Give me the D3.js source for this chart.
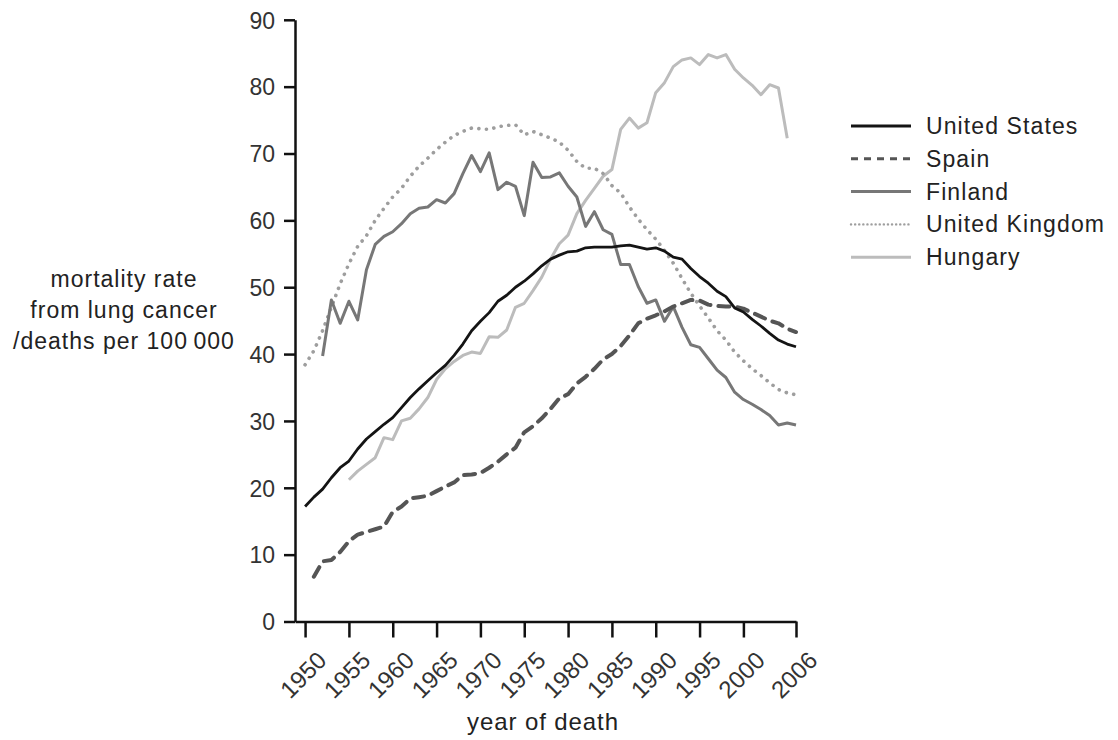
<!DOCTYPE html>
<html>
<head>
<meta charset="utf-8">
<script src="https://cdn.jsdelivr.net/npm/d3@7"></script>
<style>
    html, body { margin: 0; padding: 0; background: #fff; }
    text { font-family: "Liberation Sans", Arial, sans-serif; fill: #222; }
</style>
</head>
<body>
<div id="chart"></div>
<script>
const years = [
    1950, 1951, 1952, 1953, 1954, 1955, 1956, 1957, 1958, 1959,
    1960, 1961, 1962, 1963, 1964, 1965, 1966, 1967, 1968, 1969,
    1970, 1971, 1972, 1973, 1974, 1975, 1976, 1977, 1978, 1979,
    1980, 1981, 1982, 1983, 1984, 1985, 1986, 1987, 1988, 1989,
    1990, 1991, 1992, 1993, 1994, 1995, 1996, 1997, 1998, 1999,
    2000, 2001, 2002, 2003, 2004, 2005, 2006
];

const unitedStates = [
    17.2, 18.6, 19.8, 21.5, 23.0, 24.0, 25.8, 27.3, 28.4, 29.5,
    30.5, 32.0, 33.5, 34.8, 36.0, 37.2, 38.3, 39.8, 41.5, 43.5,
    44.9, 46.2, 47.9, 48.8, 50.0, 50.9, 52.0, 53.2, 54.2, 54.8,
    55.3, 55.4, 55.9, 56.0, 56.0, 56.0, 56.2, 56.3, 56.0, 55.7,
    55.9, 55.4, 54.5, 54.2, 52.8, 51.6, 50.6, 49.4, 48.6, 46.9,
    46.3, 45.2, 44.2, 43.1, 42.1, 41.5, 41.1
];

const spain = [
    null, 6.7, 9.0, 9.2, 10.4, 12.0, 13.0, 13.4, 13.8, 14.2,
    16.4, 17.2, 18.4, 18.6, 18.8, 19.5, 20.2, 20.8, 21.9, 22.0,
    22.2, 23.0, 23.9, 25.0, 26.0, 28.3, 29.2, 30.4, 31.8, 33.4,
    34.0, 35.6, 36.6, 37.8, 39.2, 40.0, 41.2, 42.8, 44.6, 45.3,
    45.8, 46.4, 47.1, 47.6, 48.1, 48.0, 47.4, 47.2, 47.1, 47.1,
    46.8, 46.2, 45.6, 45.0, 44.6, 43.8, 43.3
];

const finland = [
    null, null, 39.7, 48.1, 44.6, 47.9, 45.1, 52.6, 56.4, 57.6,
    58.3, 59.5, 61.0, 61.8, 62.0, 63.1, 62.6, 64.0, 67.0, 69.7,
    67.3, 70.1, 64.6, 65.7, 65.1, 60.7, 68.7, 66.4, 66.5, 67.1,
    65.1, 63.5, 59.1, 61.3, 58.6, 57.9, 53.4, 53.4, 50.1, 47.6,
    48.1, 44.9, 47.1, 44.0, 41.4, 41.0, 39.3, 37.6, 36.5, 34.3,
    33.2, 32.5, 31.7, 30.8, 29.4, 29.7, 29.4
];

const unitedKingdom = [
    38.4, 40.5, 43.5, 47.0, 50.5, 53.5, 56.1, 57.7, 60.0, 61.8,
    63.5, 64.8, 66.6, 68.1, 69.3, 70.6, 71.7, 72.7, 73.3, 73.8,
    73.7, 73.6, 74.0, 74.2, 74.3, 72.8, 73.3, 72.8, 72.3, 71.7,
    70.5, 68.8, 67.8, 67.8, 67.0, 65.2, 64.1, 62.0, 60.2, 58.6,
    57.2, 55.5, 53.6, 51.3, 49.1, 47.2, 45.4, 43.5, 42.1, 40.3,
    39.0, 37.8, 36.8, 35.7, 34.7, 34.2, 33.9
];

const hungary = [
    null, null, null, null, null, 21.2, 22.5, 23.5, 24.5, 27.5,
    27.2, 30.0, 30.4, 31.8, 33.5, 36.2, 37.8, 38.9, 39.8, 40.3,
    40.1, 42.6, 42.5, 43.6, 47.0, 47.6, 49.5, 51.5, 54.2, 56.5,
    57.8, 61.0, 63.0, 64.8, 66.6, 67.6, 73.6, 75.3, 73.8, 74.6,
    79.1, 80.6, 83.0, 84.0, 84.3, 83.3, 84.8, 84.3, 84.8, 82.6,
    81.3, 80.2, 78.8, 80.3, 79.8, 72.3, null
];

const countries = ['United States', 'Spain', 'Finland', 'United Kingdom', 'Hungary'];
const countryValues = [unitedStates, spain, finland, unitedKingdom, hungary];

const xTickValues = [1950, 1955, 1960, 1965, 1970, 1975, 1980, 1985, 1990, 1995, 2000, 2006];
const yTickValues = [0, 10, 20, 30, 40, 50, 60, 70, 80, 90];

// line styles per country (chart / legend)
const styles = {
    'United States': {color: '#141414', width: 2.8, dash: null, legendDash: null, cap: 'butt'},
    'Spain': {color: '#555555', width: 4, dash: '11,8', legendDash: '7,6', cap: 'round'},
    'Finland': {color: '#777777', width: 3, dash: null, legendDash: null, cap: 'butt'},
    'United Kingdom': {color: '#9e9e9e', width: 3.6, dash: '0.1,7.5', legendDash: '0.1,4', cap: 'round'},
    'Hungary': {color: '#bcbcbc', width: 3, dash: null, legendDash: null, cap: 'butt'}
};

const dimensions = {width: 1118, height: 740};

const svg = d3.select('#chart')
    .append('svg')
    .attr('width', dimensions.width)
    .attr('height', dimensions.height);

// the axis line starts a little before 1950
const xScale = d3.scaleLinear().domain([1950 - 1.15, 2006]).range([295, 796]);
const yScale = d3.scaleLinear().domain([0, 90]).range([621.5, 19.8]);

const xAxis = d3.axisBottom(xScale)
    .tickValues(xTickValues)
    .tickFormat(d3.format('d'))
    .tickSizeInner(16)
    .tickSizeOuter(0);

const yAxis = d3.axisLeft(yScale)
    .tickValues(yTickValues)
    .tickSizeInner(11)
    .tickSizeOuter(0);

const xAxisG = svg.append('g')
    .attr('transform', `translate(0,${yScale(0)})`)
    .call(xAxis);
xAxisG.selectAll('text')
    .attr('text-anchor', 'end')
    .attr('dx', 0)
    .attr('dy', 0)
    .attr('transform', 'translate(9,27) rotate(-45)')
    .style('font-size', '24px')
    .style('fill', '#333');

const yAxisG = svg.append('g')
    .attr('transform', `translate(${xScale.range()[0]},0)`)
    .call(yAxis);
yAxisG.selectAll('text')
    .attr('x', -20)
    .attr('dy', '0.36em')
    .style('font-size', '23px')
    .style('fill', '#333');

[xAxisG, yAxisG].forEach(g => {
    g.select('.domain').attr('stroke', '#111').attr('stroke-width', 2.5);
    g.selectAll('.tick line').attr('stroke', '#111').attr('stroke-width', 2.5);
});

// axis titles
svg.append('text')
    .attr('x', 543)
    .attr('y', 730)
    .attr('text-anchor', 'middle')
    .style('font-size', '24px')
    .style('letter-spacing', '0.9px')
    .text('year of death');

const yTitle = ['mortality rate', 'from lung cancer', '/deaths per 100\u2009000'];
svg.append('g')
    .selectAll('text')
    .data(yTitle)
    .join('text')
    .attr('x', 124)
    .attr('y', (d, i) => 287 + i * 31)
    .attr('text-anchor', 'middle')
    .style('font-size', '23px')
    .style('letter-spacing', '1px')
    .text(d => d);

// series lines
const line = d3.line()
    .defined(d => d[1] !== null)
    .x(d => xScale(d[0]))
    .y(d => yScale(d[1]));

// draw light ones first so the darker lines stay on top
const drawOrder = ['Hungary', 'United Kingdom', 'Finland', 'Spain', 'United States'];
svg.append('g')
    .selectAll('path')
    .data(drawOrder)
    .join('path')
    .attr('fill', 'none')
    .attr('stroke', d => styles[d].color)
    .attr('stroke-width', d => styles[d].width)
    .attr('stroke-dasharray', d => styles[d].dash)
    .attr('stroke-linecap', d => styles[d].cap)
    .attr('stroke-linejoin', 'round')
    .attr('d', d => {
        const values = countryValues[countries.indexOf(d)];
        return line(years.map((year, i) => [year, values[i]]));
    });

// legend
const legend = svg.append('g')
    .attr('transform', 'translate(850,126)');

const legendRows = legend.selectAll('g')
    .data(countries)
    .join('g')
    .attr('transform', (d, i) => `translate(0,${i * 32.8})`);

legendRows.append('line')
    .attr('x1', 1)
    .attr('x2', 61)
    .attr('stroke', d => styles[d].color)
    .attr('stroke-width', d => d === 'United Kingdom' ? 2.4 : (d === 'Spain' ? 3 : styles[d].width))
    .attr('stroke-dasharray', d => styles[d].legendDash)
    .attr('stroke-linecap', d => d === 'United Kingdom' ? 'round' : 'butt');

legendRows.append('text')
    .attr('x', 76)
    .attr('y', 8)
    .style('font-size', '23px')
    .style('letter-spacing', '1.1px')
    .text(d => d);
</script>
</body>
</html>
